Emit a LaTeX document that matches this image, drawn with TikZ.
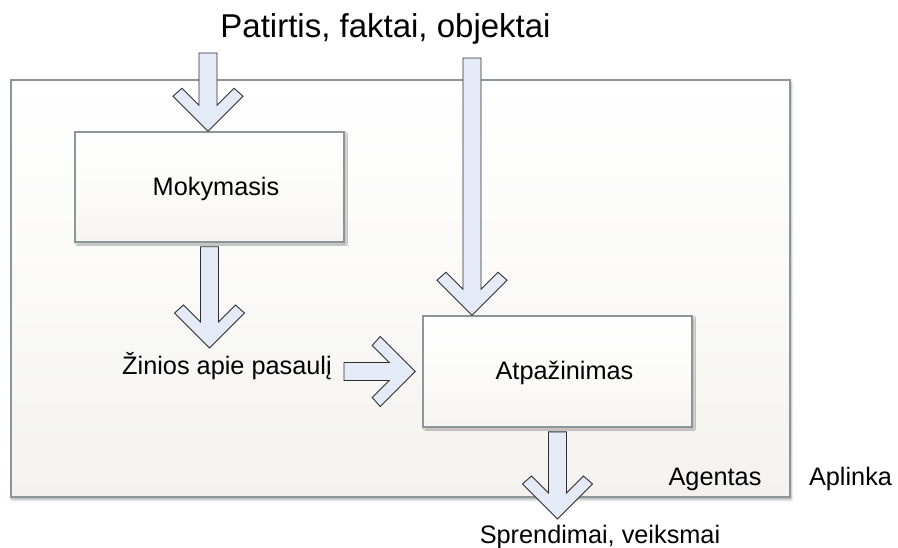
\documentclass[tikz,border=0pt]{standalone}
\usepackage{fontspec}
\setmainfont{Liberation Sans}
\usetikzlibrary{calc,shadows.blur}
\definecolor{framegray}{HTML}{8C9696}
\definecolor{bgbot}{HTML}{F3F2EE}
\definecolor{arrowfill}{HTML}{E4EAF6}
\definecolor{arrowline}{HTML}{2E2E2E}
\tikzset{
  framebox/.style={draw=framegray, line width=1.6pt, top color=white, bottom color=bgbot,
    middle color=bgbot!40!white, inner sep=0pt,
    blur shadow={shadow xshift=1pt, shadow yshift=-2.5pt, shadow blur radius=2.5pt, shadow opacity=35}},
  procbox/.style={draw=framegray, line width=1.6pt, top color=white, bottom color=bgbot!80!white,
    middle color=bgbot!30!white, inner sep=0pt, minimum width=269pt,
    blur shadow={shadow xshift=2pt, shadow yshift=-2pt, shadow blur radius=1.5pt, shadow opacity=30}},
  blockarrow/.style={draw=arrowline, line width=0.9pt, fill=arrowfill, line join=miter},
  lbl/.style={font=\fontsize{25.3}{30}\selectfont, inner sep=0pt, anchor=base},
  toplbl/.style={font=\fontsize{33}{38}\selectfont, inner sep=0pt, anchor=base},
}
% down-pointing block arrow: from start (#1) down to the height of (#2)
\newcommand\downblock[2]{%
  \draw[blockarrow] let \p1=(#1), \p2=(#2) in
    (\x1-9pt,\y1) -- (\x1-9pt,\y2+26pt) -- (\x1-26pt,\y2+43pt) -- (\x1-35pt,\y2+35pt)
    -- (\x1,\y2) -- (\x1+35pt,\y2+35pt) -- (\x1+26pt,\y2+43pt) -- (\x1+9pt,\y2+26pt)
    -- (\x1+9pt,\y1) -- cycle;}
% right-pointing block arrow: from start (#1) right to (#2)
\newcommand\rightblock[2]{%
  \draw[blockarrow] let \p1=(#1), \p2=(#2) in
    (\x1,\y1+9pt) -- (\x2-26pt,\y1+9pt) -- (\x2-43pt,\y1+26pt) -- (\x2-35pt,\y1+35pt)
    -- (\x2,\y1) -- (\x2-35pt,\y1-35pt) -- (\x2-43pt,\y1-26pt) -- (\x2-26pt,\y1-9pt)
    -- (\x1,\y1-9pt) -- cycle;}
\begin{document}
\begin{tikzpicture}[x=1pt,y=-1pt]
\useasboundingbox (0,0) rectangle (898,548);

% agent frame
\node[framebox, minimum width=779pt, minimum height=417pt] (agent) at (400.5,288.5) {};

% process boxes
\node[procbox, minimum height=110pt] (mok) at (209.5,187) {};
\node[procbox, minimum height=111pt] (atp) at (557.5,371.5) {};
\node[lbl] (mokt) at ($(mok.center)+(6.5,9)$) {Mokymasis};
\node[lbl] (atpt) at ($(atp.center)+(7,8.5)$) {Atpažinimas};

% texts
\node[toplbl] (inp) at (385.5,38) {Patirtis, faktai, objektai};
\node[lbl] (zin) at (227,375) {Žinios apie pasaulį};
\node[lbl] (out) at (600,543) {Sprendimai, veiksmai};
\node[lbl] (agt) at (715,485.5) {Agentas};
\node[lbl] (apl) at (850.5,485.5) {Aplinka};

% arrow end points
\coordinate (a1s) at (208,53);
\coordinate (a2s) at (472,58);
\coordinate (a3s) at ($(mok.south)+(0,4)$);
\coordinate (a3t) at (209.5,348);
\coordinate (a4s) at (344,371.5);
\coordinate (a4t) at ($(atp.west)+(-7,0)$);
\coordinate (a5s) at ($(atp.south)+(0,4)$);
\coordinate (a5t) at (557.5,519);

% block arrows
\downblock{a1s}{mok.north}
\downblock{a2s}{atp.north}
\downblock{a3s}{a3t}
\rightblock{a4s}{a4t}
\downblock{a5s}{a5t}
\end{tikzpicture}
\end{document}
